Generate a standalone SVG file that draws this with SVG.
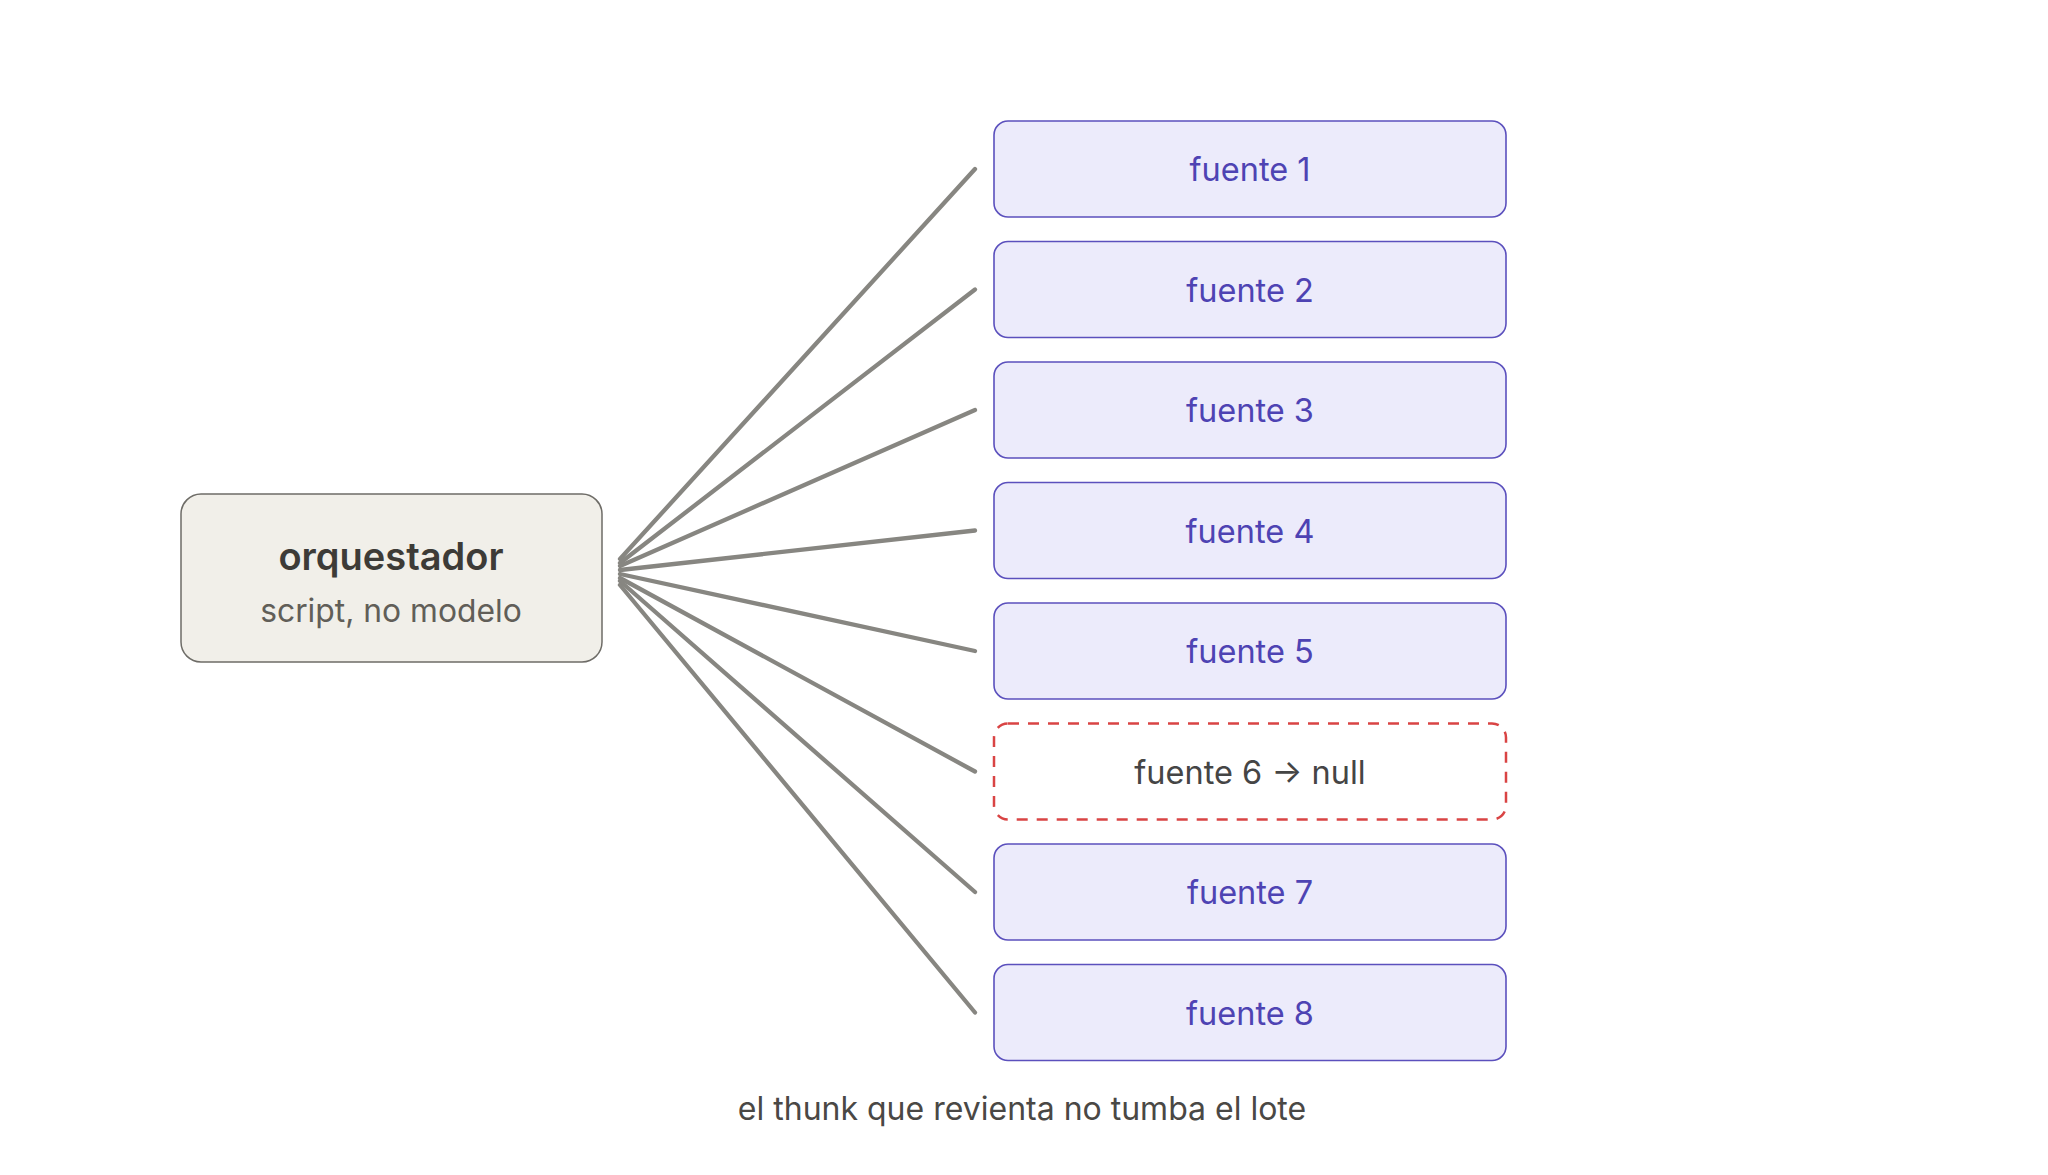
<svg xmlns="http://www.w3.org/2000/svg" width="2048" height="1175" viewBox="0 0 2048 1175">
<style>
text{font-family:Inter,"Noto Sans","Liberation Sans",sans-serif;text-anchor:middle}
.src rect{fill:#ecebfb;stroke:#5b50bd;stroke-width:1.6}
.src text{fill:#4e43b3;font-size:32.5px}
.fail rect{fill:#fff;stroke:#d94444;stroke-width:2.5;stroke-dasharray:11 9}
.fail text{fill:#454545;font-size:32.5px}
.orq rect{fill:#f1efe9;stroke:#6e6c67;stroke-width:1.5}
.edges line{stroke:#878681;stroke-width:4.3;stroke-linecap:round}
</style>
<rect width="2048" height="1175" fill="#fff"/>
<g id="connectors" class="edges">
<line x1="620" y1="559" x2="975" y2="169"/>
<line x1="620" y1="563" x2="975" y2="289.5"/>
<line x1="620" y1="566" x2="975" y2="410"/>
<line x1="620" y1="570" x2="975" y2="530.5"/>
<line x1="620" y1="574" x2="975" y2="651"/>
<line x1="620" y1="578" x2="975" y2="771.5"/>
<line x1="620" y1="581" x2="975" y2="892"/>
<line x1="620" y1="585" x2="975" y2="1012.5"/>
</g>
<g id="orquestador" class="orq">
<rect x="181" y="494" width="421" height="168" rx="20"/>
<text x="391" y="570" style="font-size:38px;font-weight:600;fill:#3d3b37">orquestador</text>
<text x="391" y="622" style="font-size:31.8px;fill:#615e58">script, no modelo</text>
</g>
<g id="fuente1" class="src"><rect x="994" y="121" width="512" height="96" rx="14"/><text x="1250" y="181">fuente 1</text></g>
<g id="fuente2" class="src"><rect x="994" y="241.5" width="512" height="96" rx="14"/><text x="1250" y="301.5">fuente 2</text></g>
<g id="fuente3" class="src"><rect x="994" y="362" width="512" height="96" rx="14"/><text x="1250" y="422">fuente 3</text></g>
<g id="fuente4" class="src"><rect x="994" y="482.5" width="512" height="96" rx="14"/><text x="1250" y="542.5">fuente 4</text></g>
<g id="fuente5" class="src"><rect x="994" y="603" width="512" height="96" rx="14"/><text x="1250" y="663">fuente 5</text></g>
<g id="fuente6" class="fail"><rect x="994" y="723.5" width="512" height="96" rx="14"/><text x="1250" y="783.5">fuente 6 → null</text></g>
<g id="fuente7" class="src"><rect x="994" y="844" width="512" height="96" rx="14"/><text x="1250" y="904">fuente 7</text></g>
<g id="fuente8" class="src"><rect x="994" y="964.5" width="512" height="96" rx="14"/><text x="1250" y="1024.5">fuente 8</text></g>
<text id="caption" x="1022" y="1120" style="font-size:32px;fill:#4a4845">el thunk que revienta no tumba el lote</text>
</svg>
